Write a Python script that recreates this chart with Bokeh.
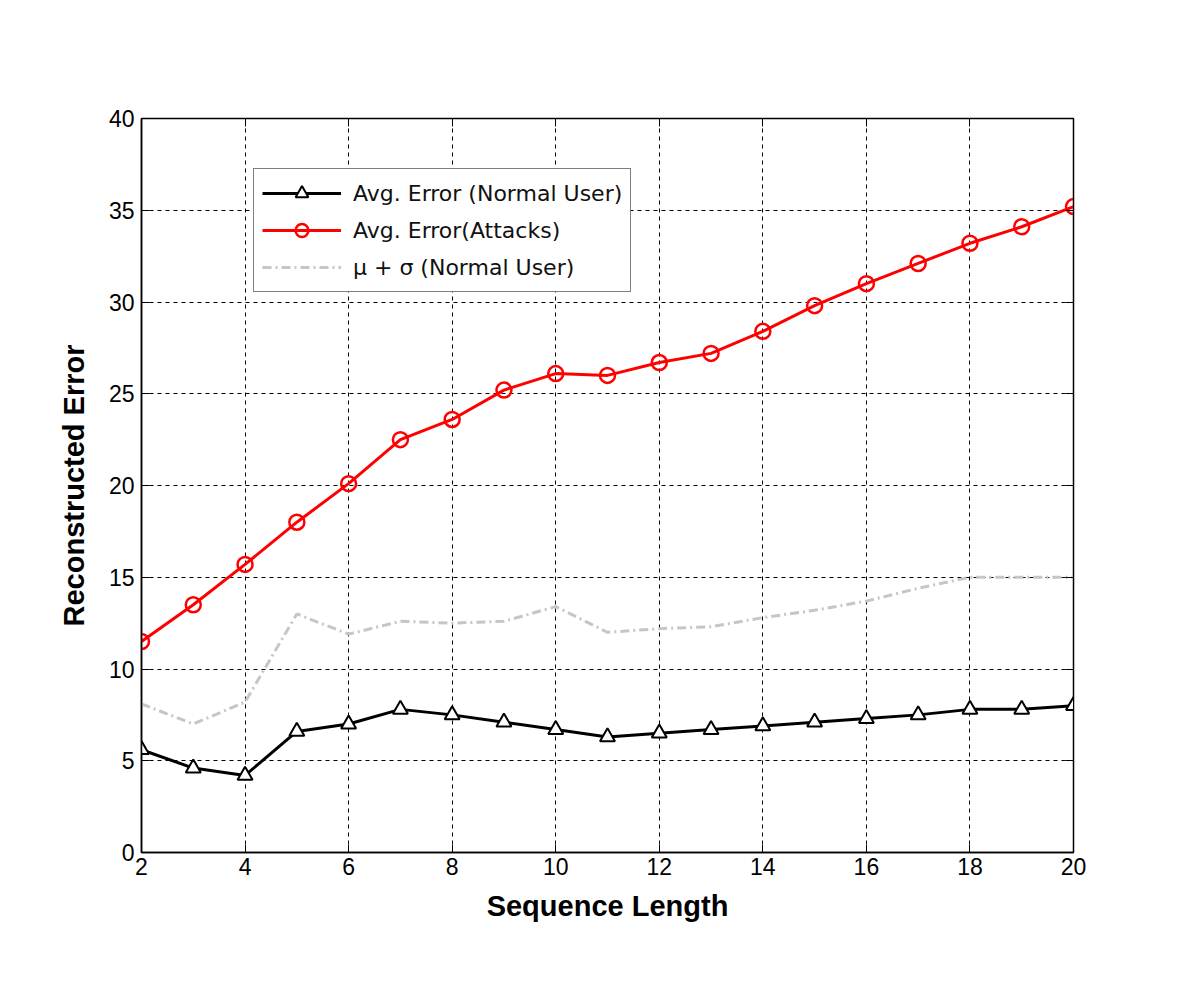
from bokeh.plotting import figure
from bokeh.models import LinearAxis, Range1d, FixedTicker, Legend, LegendItem
from bokeh.embed import file_html
from bokeh.resources import INLINE

seq_len = list(range(2, 21))
normal_avg = [5.6, 4.6, 4.2, 6.6, 7.0, 7.8, 7.5, 7.1, 6.7, 6.3, 6.5, 6.7, 6.9, 7.1, 7.3, 7.5, 7.8, 7.8, 8.0]
attack_avg = [11.5, 13.5, 15.7, 18.0, 20.1, 22.5, 23.6, 25.2, 26.1, 26.0, 26.7, 27.2, 28.4, 29.8, 31.0, 32.1, 33.2, 34.1, 35.2]
mu_sigma = [8.1, 7.0, 8.2, 13.0, 11.9, 12.6, 12.5, 12.6, 13.4, 12.0, 12.2, 12.3, 12.8, 13.2, 13.7, 14.4, 15.0, 15.0, 15.0]
x_ticks = list(range(2, 21, 2))
y_ticks = list(range(0, 41, 5))
legend_labels = ["Avg. Error (Normal User)", "Avg. Error(Attacks)", "\u03bc + \u03c3 (Normal User)"]

FONT = "Liberation Sans"

p = figure(width=1184, height=986, output_backend="svg", toolbar_location=None,
           x_range=Range1d(2, 20), y_range=Range1d(0, 40),
           min_border_left=141, min_border_right=111, min_border_top=118, min_border_bottom=134)
p.background_fill_color = "white"
p.border_fill_color = "white"
p.outline_line_color = "black"
p.outline_line_width = 1.5

# grid
for g in (p.xgrid, p.ygrid):
    g.grid_line_color = "black"
    g.grid_line_dash = "4 4"
    g.grid_line_width = 1
p.xgrid.ticker = FixedTicker(ticks=x_ticks)
p.ygrid.ticker = FixedTicker(ticks=y_ticks)

for ax in (p.xaxis[0], p.yaxis[0]):
    ax.axis_line_color = "black"
    ax.axis_line_width = 1.5
    ax.major_tick_in = 8
    ax.major_tick_out = 0
    ax.minor_tick_line_color = None
    ax.major_label_text_font = FONT
    ax.major_label_text_font_size = "23px"
    ax.major_label_text_color = "black"
    ax.axis_label_text_font = FONT
    ax.axis_label_text_font_style = "bold"
    ax.axis_label_text_font_size = "29px"
    ax.axis_label_text_color = "black"

p.xaxis[0].ticker = FixedTicker(ticks=x_ticks)
p.yaxis[0].ticker = FixedTicker(ticks=y_ticks)
p.xaxis[0].axis_label = "Sequence Length"
p.yaxis[0].axis_label = "Reconstructed Error"
p.xaxis[0].major_label_standoff = 5
p.yaxis[0].major_label_standoff = 7
p.xaxis[0].axis_label_standoff = 12
p.yaxis[0].axis_label_standoff = 16

# box-style ticks on top and right
top = LinearAxis(ticker=FixedTicker(ticks=x_ticks),
                 major_label_overrides={t: "" for t in x_ticks},
                 major_tick_in=8, major_tick_out=0, minor_tick_line_color=None,
                 axis_line_color="black", major_label_standoff=0)
right = LinearAxis(ticker=FixedTicker(ticks=y_ticks),
                   major_label_overrides={t: "" for t in y_ticks},
                   major_tick_in=8, major_tick_out=0, minor_tick_line_color=None,
                   axis_line_color="black", major_label_standoff=0)
p.add_layout(top, "above")
p.add_layout(right, "right")

# series
l1 = p.line(seq_len, normal_avg, line_color="black", line_width=3)
m1 = p.scatter(seq_len, normal_avg, marker="triangle", size=15, line_color="black",
               line_width=2, fill_color="white")
l2 = p.line(seq_len, attack_avg, line_color="red", line_width=3)
m2 = p.scatter(seq_len, attack_avg, marker="circle", size=15, line_color="red",
               line_width=2.5, fill_color=None)
l3 = p.line(seq_len, mu_sigma, line_color="#c6c6c6", line_width=3, line_dash="9 4 2 4")

legend = Legend(items=[
    LegendItem(label=legend_labels[0], renderers=[l1, m1]),
    LegendItem(label=legend_labels[1], renderers=[l2, m2]),
    LegendItem(label=legend_labels[2], renderers=[l3]),
], location=(112, 560))
legend.label_text_font = "DejaVu Sans"
legend.label_text_font_size = "22px"
legend.label_text_color = "#111111"
legend.glyph_width = 79
legend.glyph_height = 32
legend.label_height = 32
legend.spacing = 5
legend.padding = 8
legend.margin = 0
legend.label_standoff = 12
legend.border_line_color = "black"
legend.border_line_width = 1.5
legend.background_fill_alpha = 1
p.add_layout(legend, "center")

open("out.html", "w").write(file_html(p, INLINE))
